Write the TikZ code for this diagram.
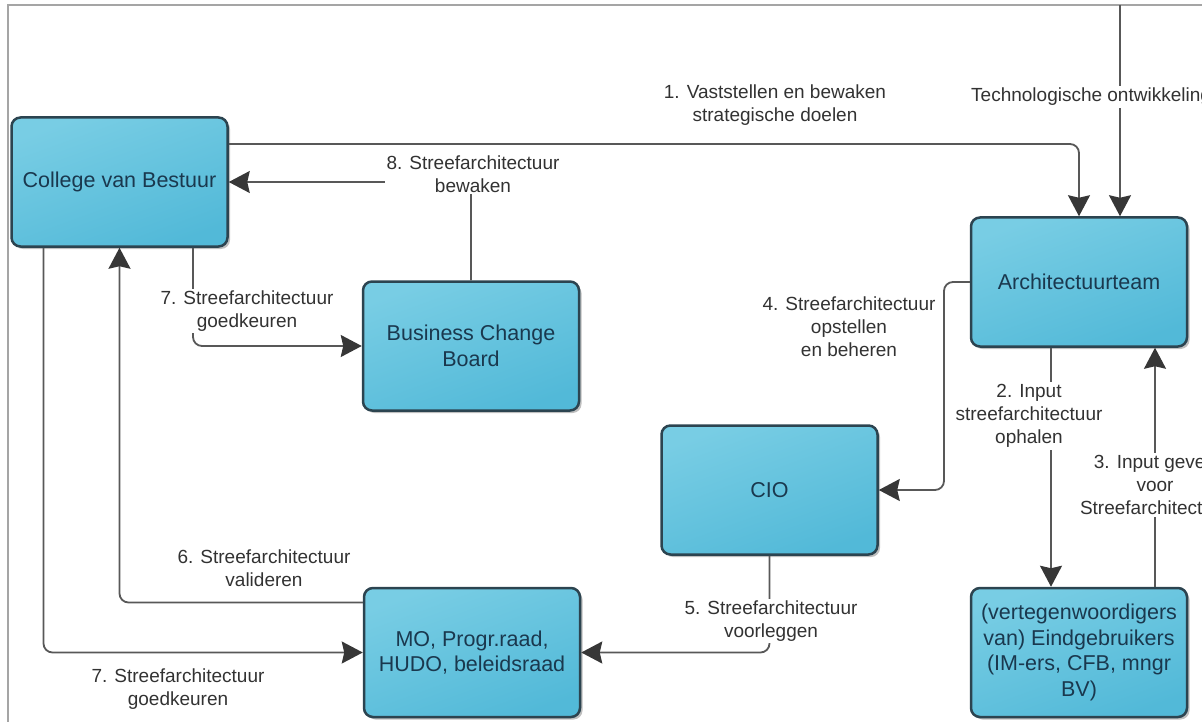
\documentclass[tikz,border=0pt]{standalone}
\usepackage{fontspec}
\setmainfont{Liberation Sans}
\usetikzlibrary{arrows.meta,shadows,calc}

\definecolor{boxlight}{RGB}{120,205,228}
\definecolor{boxdark}{RGB}{82,185,216}
\definecolor{boxedge}{RGB}{44,68,80}
\definecolor{boxtext}{RGB}{26,56,78}
\definecolor{wire}{RGB}{88,88,88}
\definecolor{tipfill}{RGB}{55,55,55}
\definecolor{labeltext}{RGB}{50,50,50}
\definecolor{framegray}{RGB}{165,165,165}

\begin{document}
\begin{tikzpicture}[x=1pt,y=-1pt,
  unit/.style={draw=boxedge, line width=2.5pt, rounded corners=9pt,
    top color=boxlight, bottom color=boxdark, shading angle=20,
    minimum width=216pt, minimum height=129pt, inner sep=0pt,
    align=center, text=boxtext, font=\fontsize{21.5}{25.5}\selectfont,
    drop shadow={shadow xshift=2.5pt, shadow yshift=-2.5pt, opacity=0.25, fill=black}},
  wirestyle/.style={draw=wire, line width=1.8pt, rounded corners=9pt,
    -{Stealth[length=21pt,width=22pt,inset=2.5pt,color=tipfill,fill=tipfill]}},
  note/.style={align=center, text=labeltext, font=\fontsize{19}{23}\selectfont, inner sep=2pt},
  notebg/.style={note, fill=white}]

\useasboundingbox (0,0) rectangle (1202,722);

% page frame
\draw[framegray, line width=1.5pt] (8,740) -- (8,5) -- (1220,5);

% organisational units
\node[unit] (cvb)  at (119.5,182)  {College van Bestuur};
\node[unit] (arch) at (1079,282)   {Architectuurteam};
\node[unit] (bcb)  at (471,346)    {Business Change\\Board};
\node[unit] (cio)  at (769.5,490)  {CIO};
\node[unit] (mo)   at (472,652.5)  {MO, Progr.raad,\\HUDO, beleidsraad};
\node[unit] (eind) at (1079,652.5) {(vertegenwoordigers\\van) Eindgebruikers\\(IM-ers, CFB, mngr\\BV)};

% helper points
\coordinate (techsrc) at (1120,5);
\coordinate (bend4) at (944,0);

% connectors
\draw[wirestyle] ([yshift=38pt]cvb.east) -| (arch.north);
\draw[wirestyle] (techsrc) -- (techsrc |- arch.north);
\draw[wirestyle] (bcb.north) |- (cvb.east);
\draw[wirestyle] ([xshift=73.5pt]cvb.south) |- (bcb.west);
\draw[wirestyle] ([yshift=50pt]mo.west) -| (cvb.south);
\draw[wirestyle] ([xshift=-76pt]cvb.south) |- (mo.west);
\draw[wirestyle] (arch.west) -| (bend4 |- cio.east) -- (cio.east);
\draw[wirestyle] ([xshift=-28pt]arch.south) -- ([xshift=-28pt]eind.north);
\draw[wirestyle] ([xshift=76pt]eind.north) -- ([xshift=76pt]arch.south);
\draw[wirestyle] (cio.south) |- (mo.east);

% connector labels
\node[note]   (l1)   at (775,105)  {1. Vaststellen en bewaken\\strategische doelen};
\node[notebg, anchor=west] (ltech) at (969,97) {Technologische ontwikkeling};
\node[notebg] (l8)   at (473,174)  {8. Streefarchitectuur\\bewaken};
\node[notebg] (l7a)  at (247,311)  {7. Streefarchitectuur\\goedkeuren};
\node[note]   (l6)   at (264,568)  {6. Streefarchitectuur\\valideren};
\node[note]   (l7b)  at (178,689)  {7. Streefarchitectuur\\goedkeuren};
\node[note]   (l4)   at (849,327)  {4. Streefarchitectuur\\opstellen\\en beheren};
\node[notebg] (l2)   at (1029,416) {2. Input\\streefarchitectuur\\ophalen};
\node[notebg] (l3)   at (1155,485) {3. Input geven\\voor\\Streefarchitectuur};
\node[notebg] (l5)   at (771,621)  {5. Streefarchitectuur\\voorleggen};

\end{tikzpicture}
\end{document}
